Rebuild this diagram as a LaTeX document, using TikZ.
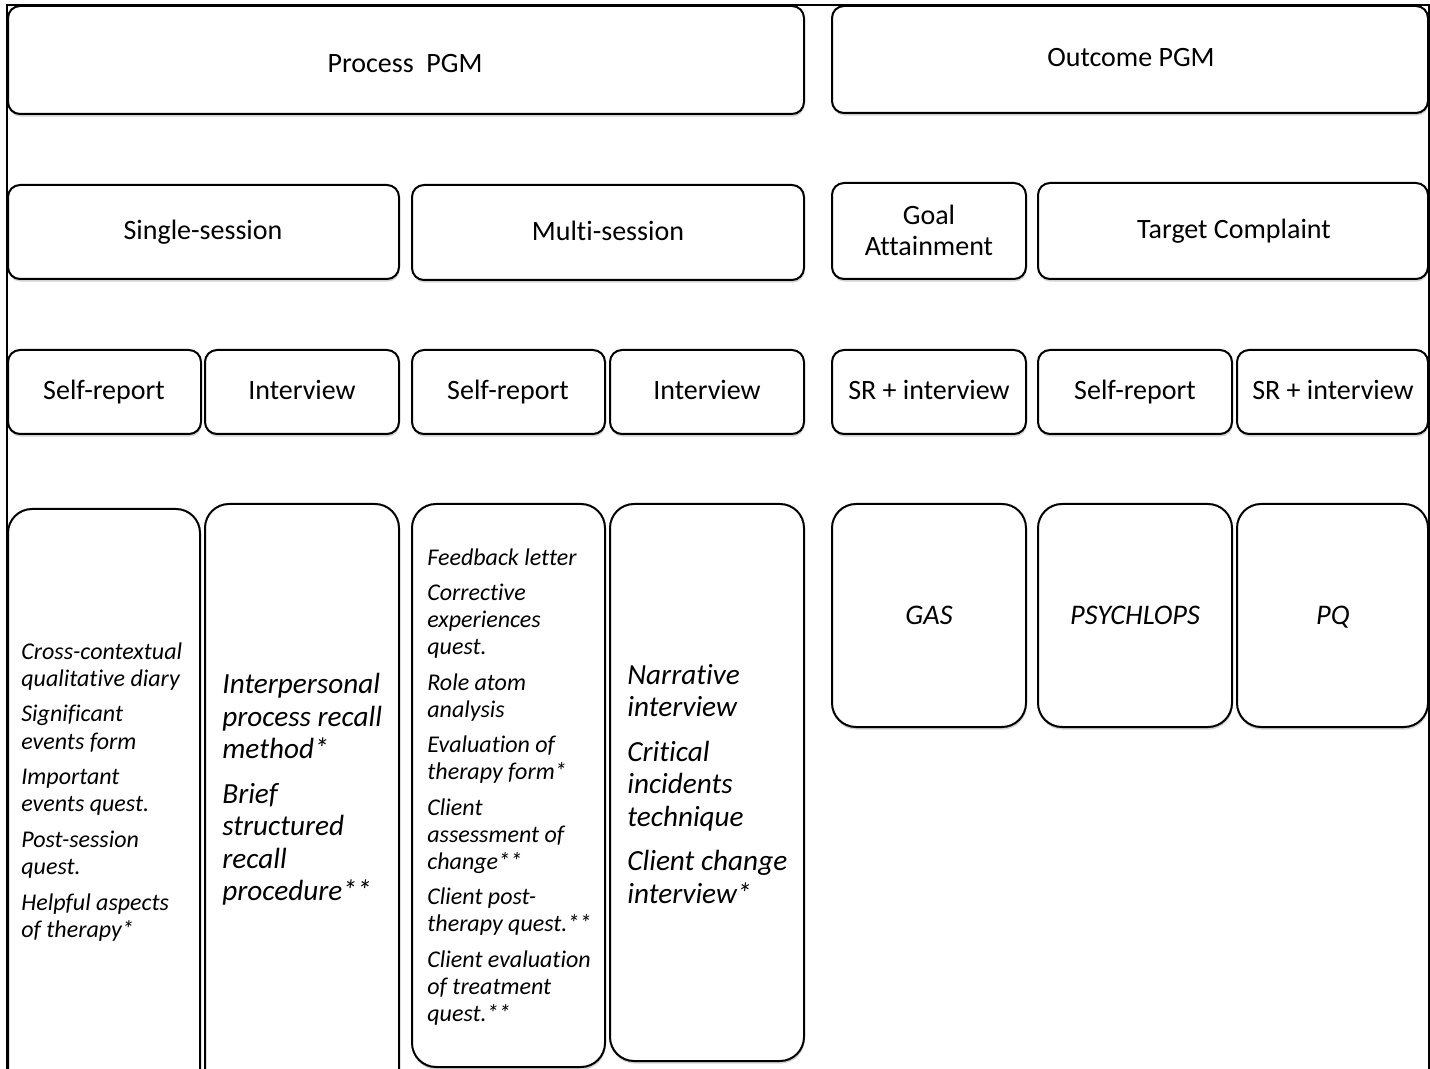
\documentclass[tikz,border=0pt]{standalone}
\usepackage{fontspec}
\setmainfont{Carlito}[Ligatures=CommonOff]
\usetikzlibrary{fit,shadows}
\tikzset{
  box/.style={draw, line width=1pt, rounded corners=6pt, fill=white, inner sep=0pt,
    drop shadow={shadow xshift=0.3pt, shadow yshift=-1.3pt, opacity=0.35}},
  tallbox/.style={box, rounded corners=12pt},
  lab/.style={anchor=base, inner sep=0pt, font=\fontsize{14}{15.5}\selectfont, align=center},
  smalllist/.style={anchor=north west, inner sep=0pt, align=left,
    font=\fontsize{12}{13.6}\selectfont\itshape},
  smalllistb/.style={smalllist, font=\fontsize{12}{13.4}\selectfont\itshape},
  biglist/.style={anchor=north west, inner sep=0pt, align=left,
    font=\fontsize{14.6}{16.25}\selectfont\itshape},
  bigital/.style={anchor=base, inner sep=0pt, font=\fontsize{14.2}{16}\selectfont\itshape},
  frame/.style={draw, line width=0.8pt}
}
\begin{document}
\begin{tikzpicture}[x=0.5pt,y=-0.5pt]
\useasboundingbox (0,0) rectangle (1430,1069);
\clip (0,0) rectangle (1430,1069);
\fill[white] (0,0) rectangle (1430,1069);
% outer frame
\draw[frame] (7,1090) -- (7,5) -- (1429,5) -- (1429,1090);
% top row
\node[box, fit={(8,6)(804,114)}] (process) {};
\node[box, fit={(832,6)(1428,113)}] (outcome) {};
% second row
\node[box, fit={(8,185)(399,279)}] (single) {};
\node[box, fit={(412,185)(804,280)}] (multi) {};
\node[box, fit={(832,183)(1026,279)}] (goal) {};
\node[box, fit={(1038,183)(1428,279)}] (target) {};
% third row
\node[box, fit={(8,350)(201,434)}] (ssr) {};
\node[box, fit={(205,350)(399,434)}] (sint) {};
\node[box, fit={(412,350)(605,434)}] (msr) {};
\node[box, fit={(610,350)(804,434)}] (mint) {};
\node[box, fit={(832,350)(1026,434)}] (gsr) {};
\node[box, fit={(1038,350)(1232,434)}] (tsr) {};
\node[box, fit={(1237,350)(1428,434)}] (tsri) {};
% fourth row
\node[tallbox, fit={(8,509)(200,1095)}] (c1) {};
\node[tallbox, fit={(205,504)(399,1095)}] (c2) {};
\node[tallbox, fit={(412,504)(605,1067)}] (c3) {};
\node[tallbox, fit={(610,504)(804,1061)}] (c4) {};
\node[tallbox, fit={(832,504)(1026,727)}] (gas) {};
\node[tallbox, fit={(1038,504)(1232,727)}] (psy) {};
\node[tallbox, fit={(1237,504)(1428,727)}] (pq) {};
% labels
\node[lab] (processT) at (405,73) {Process\ \ PGM};
\node[lab] (outcomeT) at (1131,67) {Outcome PGM};
\node[lab] (singleT) at (203,240) {Single-session};
\node[lab] (multiT) at (608,241) {Multi-session};
\node[lab, anchor=center] (goalT) at (929,230) {Goal\\Attainment};
\node[lab] (targetT) at (1234,239) {Target Complaint};
\node[lab] (ssrT) at (104,400) {Self-report};
\node[lab] (sintT) at (302,400) {Interview};
\node[lab] (msrT) at (508,400) {Self-report};
\node[lab] (mintT) at (707,400) {Interview};
\node[lab] (gsrT) at (929,400) {SR + interview};
\node[lab] (tsrT) at (1135,400) {Self-report};
\node[lab] (tsriT) at (1333,400) {SR + interview};
\node[bigital] (gasT) at (929,624) {GAS};
\node[bigital] (psyT) at (1135,624) {PSYCHLOPS};
\node[bigital] (pqT) at (1333,624) {PQ};
% texts
\node[smalllist] (t1) at (21,642) {Cross-contextual\\ qualitative diary\\[4.2pt]
  Significant\\ events form\\[4.2pt]
  Important\\ events quest.\\[4.2pt]
  Post-session\\ quest.\\[4.2pt]
  Helpful aspects\\ of therapy*};
\node[biglist] (t2) at (222,673) {Interpersonal\\ process recall\\ method*\\[6pt]
  Brief\\ structured\\ recall\\ procedure**};
\node[smalllistb] (t3) at (427,548) {Feedback letter\\[4.5pt]
  Corrective\\ experiences\\ quest.\\[4.5pt]
  Role atom\\ analysis\\[4.5pt]
  Evaluation of\\ therapy form*\\[4.5pt]
  Client\\ assessment of\\ change**\\[4.5pt]
  Client post-\\ therapy quest.**\\[4.5pt]
  Client evaluation\\ of treatment\\ quest.**};
\node[biglist] (t4) at (627,664) {Narrative\\ interview\\[6pt]
  Critical\\ incidents\\ technique\\[6pt]
  Client change\\ interview*};
\end{tikzpicture}
\end{document}
